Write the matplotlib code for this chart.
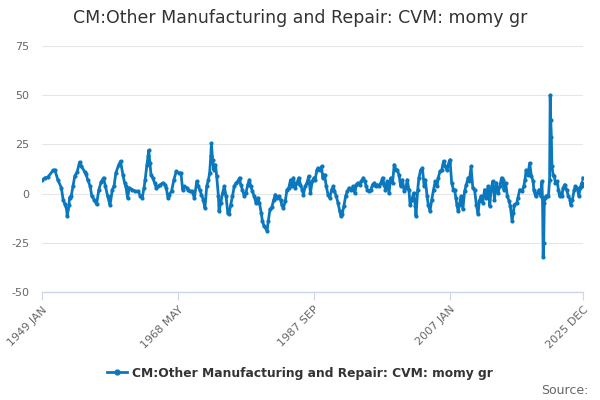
import matplotlib
matplotlib.use("Agg")
import matplotlib.pyplot as plt
from matplotlib.lines import Line2D

# Months elapsed since 1949 JAN, and growth values (%)
month_offsets = [
    0, 5, 10, 19, 22, 27, 33, 36, 39, 42, 43, 46, 47, 50, 53, 56, 60, 64, 67, 73,
    75, 78, 82, 85, 89, 93, 97, 101, 105, 108, 112, 116, 120, 123, 126, 131, 134, 138, 141, 143,
    146, 149, 154, 159, 164, 168, 171, 174, 176, 179, 181, 182, 184, 186, 189, 192, 195, 198, 202, 206,
    210, 212, 215, 217, 221, 225, 229, 233, 237, 240, 243, 247, 249, 252, 256, 260, 264, 267, 269, 272,
    275, 278, 281, 284, 286, 288, 289, 291, 293, 296, 298, 301, 302, 305, 308, 311, 314, 317, 319, 322,
    325, 328, 331, 334, 337, 339, 342, 345, 348, 351, 354, 356, 359, 362, 365, 368, 371, 374, 376, 379,
    384, 386, 389, 392, 395, 398, 401, 404, 407, 409, 412, 415, 418, 421, 424, 427, 429, 432, 435, 438,
    441, 444, 446, 449, 452, 455, 458, 461, 464, 466, 469, 471, 474, 477, 479, 482, 485, 488, 491, 494,
    497, 499, 502, 505, 508, 510, 512, 515, 518, 521, 524, 527, 531, 534, 536, 539, 542, 545, 548, 551,
    553, 555, 558, 561, 564, 567, 569, 572, 575, 578, 581, 584, 586, 589, 592, 595, 598, 601, 604, 606,
    609, 612, 615, 618, 621, 623, 626, 628, 631, 634, 637, 638, 641, 643, 646, 649, 652, 654, 657, 659,
    662, 665, 668, 671, 674, 676, 679, 682, 685, 688, 691, 694, 696, 699, 702, 704, 706, 708, 710, 712,
    715, 718, 721, 724, 727, 729, 732, 735, 738, 741, 744, 746, 749, 752, 755, 758, 761, 764, 766, 769,
    772, 775, 778, 781, 784, 786, 788, 791, 794, 797, 799, 802, 804, 806, 810, 812, 815, 819, 822, 824,
    826, 829, 832, 835, 838, 839, 842, 845, 848, 851, 853, 854, 855, 856, 857, 858, 860, 862, 864, 866,
    867, 868, 869, 870, 872, 874, 876, 879, 881, 883, 885, 887, 889, 892, 895, 898, 901, 902, 905, 908,
    910, 913, 916, 918, 921, 922, 923,
]
values = [
    7, 8, 8.4, 11.8, 12, 7, 3, -3, -5.5, -8, -11.5, -6, -2, -1, 4, 9, 11, 16, 14, 11,
    10, 7, 4, -1.3, -3, -5.5, 2, 6, 8, 4, -1.3, -6, 2, 4, 10.5, 14.7, 16.4, 9.6, 5.4, 3.7,
    -2.2, 2.9, 2, 1.2, 1.2, -1.3, -2.2, 2.9, 7, 14.7, 19, 22, 15.5, 9.6, 8, 5.4, 2.9, 3.7, 4.6, 5.4,
    4.6, 2.9, -2.2, -0.5, 1.2, 7, 11.3, 10.5, 10.5, 2, 3.7, 2.9, 2, 1.2, 1.2, -2.2, 6.2, 3.7, 2, -0.5,
    -3, -7.3, 3.7, 7, 10.5, 19, 25.6, 17.2, 12, 14.7, 8.8, -1.3, -9, -4.7, 0.3, 3.7, -1.3, -10, -10.6, -5.6,
    -1.3, 3.7, 5.4, 6.2, 8, 4.6, 2, -1.3, 0.3, 4.6, 7, 3.7, 1.2, -1.3, -4.7, -2.2, -4.7, -9.8, -14, -16.5,
    -19, -14, -8, -7, -3.5, -0.5, -2.2, -1.3, -3, -5.6, -7.3, -3.9, 2, 2.9, 7, 3.7, 8, 2.9, 5.4, 8,
    4.6, 2, -0.5, 3.7, 5.4, 8.8, 0.3, 6.2, 8, 7, 12, 13, 12, 13.8, 8, 9.6, 3.7, -0.5, -2.2, 2,
    3.7, 1.2, -1.3, -4.7, -9, -11.5, -10.6, -6.4, -1.3, 1.2, 2.9, 2, 3.7, 0.3, 4.6, 5.4, 4.6, 6.2, 8, 6.2,
    3.7, 2, 1.2, 2, 4.6, 5.4, 3.7, 4.6, 3.7, 5.4, 8, 4.6, 2, 6.2, 0.3, 8, 5.4, 14.7, 12, 12,
    9.6, 3.7, 7, 1.2, 2.9, 7, 2, -6, -3, 0.3, -6.4, -11.5, 2, 8, 12, 13, 3.7, 7, -1.3, -5.6,
    -9, -3, 2, 6.2, 3.7, 8, 11.3, 12, 16.4, 13.8, 12, 15.5, 17.2, 5.4, 2, 2, -2, -6, -9, -5.6,
    -1.3, -8, 1.2, 4.6, 8, 6.2, 13.8, 2.9, 2, -5.6, -10.6, -3.9, -1.3, -4.7, 2, -2.2, 3.7, -6.4, 2, 6.2,
    -3, 5.4, 0.3, 3.7, 8, 7, 2, 5.4, -1.3, -3.9, -6.4, -14, -9.8, -5.6, -4.7, -2.2, 2, 1.2, 3.7, 7,
    12, 9.6, 15.5, 8.8, 6.2, 2, -1.3, 0.3, 2, -1.3, 6.2, -4.7, -32, -25, -4.7, -2, -1.3, -1, -1.3, 7,
    50, 37.4, 29, 13.8, 9.6, 8.8, 5.4, 6.2, 2, -1.3, 0.3, -1.3, 2.9, 4.6, 2, -1.3, -3, -5.6, -3, 2,
    3.7, 2.9, -1.3, 2.9, 5.4, 3.7, 8,
]

tick_offsets = [0, 232, 464, 696, 923]
tick_labels = ["1949 JAN", "1968 MAY", "1987 SEP", "2007 JAN", "2025 DEC"]
y_ticks = [-50, -25, 0, 25, 50, 75]

title = "CM:Other Manufacturing and Repair: CVM: momy gr"
series_name = "CM:Other Manufacturing and Repair: CVM: momy gr"
color = "#0b78be"

fig = plt.figure(figsize=(6, 4), dpi=100)
ax = fig.add_axes([42 / 600, 1 - 292 / 400, (583 - 42) / 600, (292 - 46) / 400])

ax.plot(month_offsets, values, color=color, linewidth=2.0, marker="o",
        markersize=3.0, markeredgewidth=0)

ax.set_xlim(0, 923)
ax.set_ylim(-50, 75)
ax.set_yticks(y_ticks)
ax.set_yticklabels([str(v) for v in y_ticks])
ax.set_xticks(tick_offsets)
ax.set_xticklabels(tick_labels, rotation=45, ha="right", rotation_mode="anchor")

ax.grid(axis="y", color="#e6e6e6", linewidth=0.8)
ax.set_axisbelow(True)
for s in ["top", "right", "left"]:
    ax.spines[s].set_visible(False)
ax.spines["bottom"].set_color("#ccd6eb")
ax.spines["bottom"].set_linewidth(1)
ax.tick_params(axis="y", length=0, labelsize=8, labelcolor="#666666", pad=9)
ax.tick_params(axis="x", length=6, color="#ccd6eb", labelsize=8, labelcolor="#666666", pad=3)

fig.text(0.5, 1 - 18 / 400, title, ha="center", va="center", fontsize=12.5, color="#333333")

handle = Line2D([0], [0], color=color, linewidth=2.0, marker="o", markersize=3.5)
fig.legend([handle], [series_name], loc="center", bbox_to_anchor=(0.5, 1 - 373 / 400),
           frameon=False, prop={"weight": "bold", "size": 8.8}, labelcolor="#333333",
           handlelength=1.6, handletextpad=0.4)

fig.text(589 / 600, 1 - 390 / 400, "Source:", ha="right", va="center", fontsize=9, color="#666666")

fig.savefig("out.png", dpi=100)
